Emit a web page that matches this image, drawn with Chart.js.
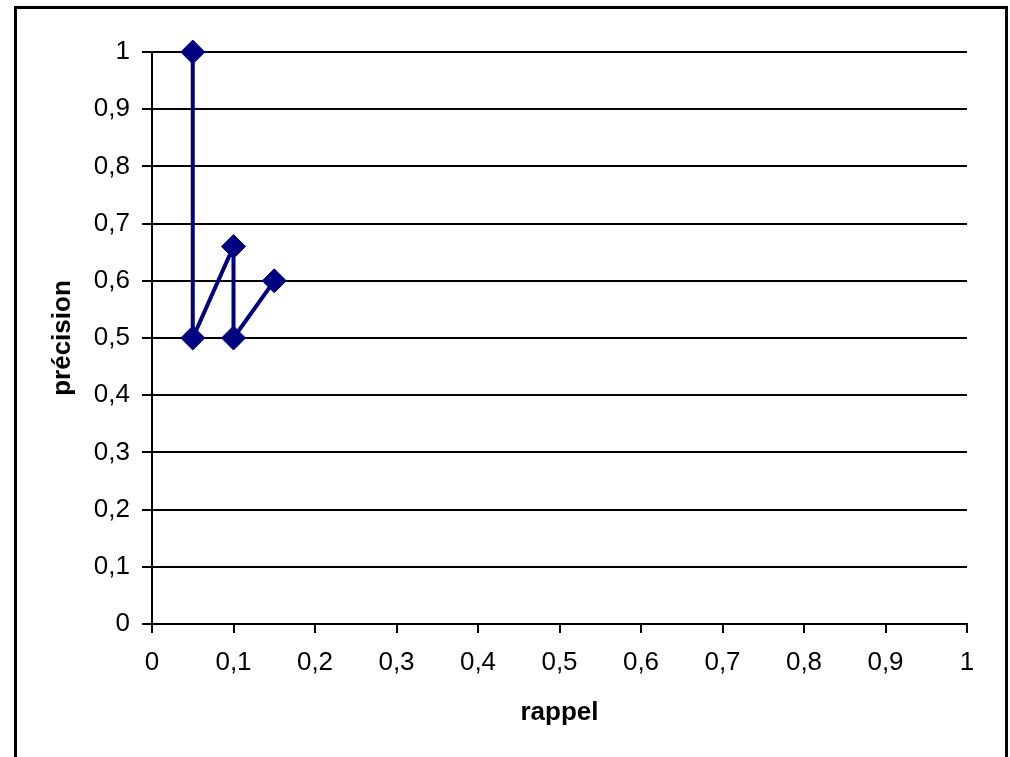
<!DOCTYPE html>
<html>
<head>
<meta charset="utf-8">
<script src="https://cdn.jsdelivr.net/npm/chart.js@4/dist/chart.umd.min.js"></script>
<style>
  html, body { margin: 0; padding: 0; background: #fff; }
  #wrap { width: 1010px; height: 757px; }
</style>
</head>
<body>
<div id="wrap"><canvas id="prChart" width="1010" height="757"></canvas></div>
<script>
// rappel / précision points
const rappel = [0.05, 0.05, 0.1, 0.1, 0.15];
const precision = [1, 0.5, 0.66, 0.5, 0.6];
const xTicks = [0, 0.1, 0.2, 0.3, 0.4, 0.5, 0.6, 0.7, 0.8, 0.9, 1];
const yTicks = [0, 0.1, 0.2, 0.3, 0.4, 0.5, 0.6, 0.7, 0.8, 0.9, 1];

const points = rappel.map((x, i) => ({ x: x, y: precision[i] }));
const fmt = v => String(Math.round(v * 10) / 10).replace('.', ',');

// outer frame like the Excel chart border
const framePlugin = {
    id: 'frame',
    afterDraw(chart) {
        const c = chart.ctx;
        c.save();
        c.strokeStyle = '#000';
        c.lineWidth = 3;
        c.strokeRect(15.5, 7.5, 991, 800);
        c.restore();
    }
};

const tickFont = { family: "'Liberation Sans', Arial, sans-serif", size: 26 };
const titleFont = { family: "'Liberation Sans', Arial, sans-serif", size: 26, weight: 'bold' };

const ctx = document.getElementById('prChart').getContext('2d');
const prChart = new Chart(ctx, {
    type: 'scatter',
    data: {
        datasets: [{
            label: 'précision',
            data: points,
            showLine: true,
            tension: 0,
            clip: false,
            borderColor: '#000080',
            borderWidth: 4,
            backgroundColor: '#000080',
            pointStyle: 'rectRot',
            pointRadius: 12,
            pointBorderWidth: 1,
            pointBorderColor: '#000080',
            pointBackgroundColor: '#000080'
        }]
    },
    plugins: [framePlugin],
    options: {
        responsive: false,
        animation: false,
        layout: { padding: { left: 0, top: 52, right: 43, bottom: 0 } },
        plugins: { legend: { display: false }, tooltip: { enabled: false } },
        scales: {
            x: {
                type: 'linear',
                min: 0, max: 1,
                afterFit: s => { s.height = 133; },
                afterBuildTicks: s => { s.ticks = xTicks.map(v => ({ value: v })); },
                ticks: {
                    callback: v => fmt(v),
                    color: '#000',
                    font: tickFont,
                    padding: 14,
                    maxRotation: 0
                },
                grid: { drawOnChartArea: false, drawTicks: true, tickLength: 9, color: '#000', lineWidth: 2 },
                border: { display: true, color: '#000', width: 2 },
                title: {
                    display: true, text: 'rappel', color: '#000',
                    font: titleFont,
                    padding: { top: 0, bottom: 29 }
                }
            },
            y: {
                type: 'linear',
                min: 0, max: 1,
                afterFit: s => { s.width = 152; },
                afterBuildTicks: s => { s.ticks = yTicks.map(v => ({ value: v })); },
                ticks: {
                    callback: v => fmt(v),
                    color: '#000',
                    font: tickFont,
                    padding: 12
                },
                grid: { drawOnChartArea: true, drawTicks: true, tickLength: 10, color: '#000', lineWidth: 2 },
                border: { display: true, color: '#000', width: 2 },
                title: {
                    display: true, text: 'précision', color: '#000',
                    font: titleFont,
                    padding: { top: 47, bottom: 0 }
                }
            }
        }
    }
});
</script>
</body>
</html>
